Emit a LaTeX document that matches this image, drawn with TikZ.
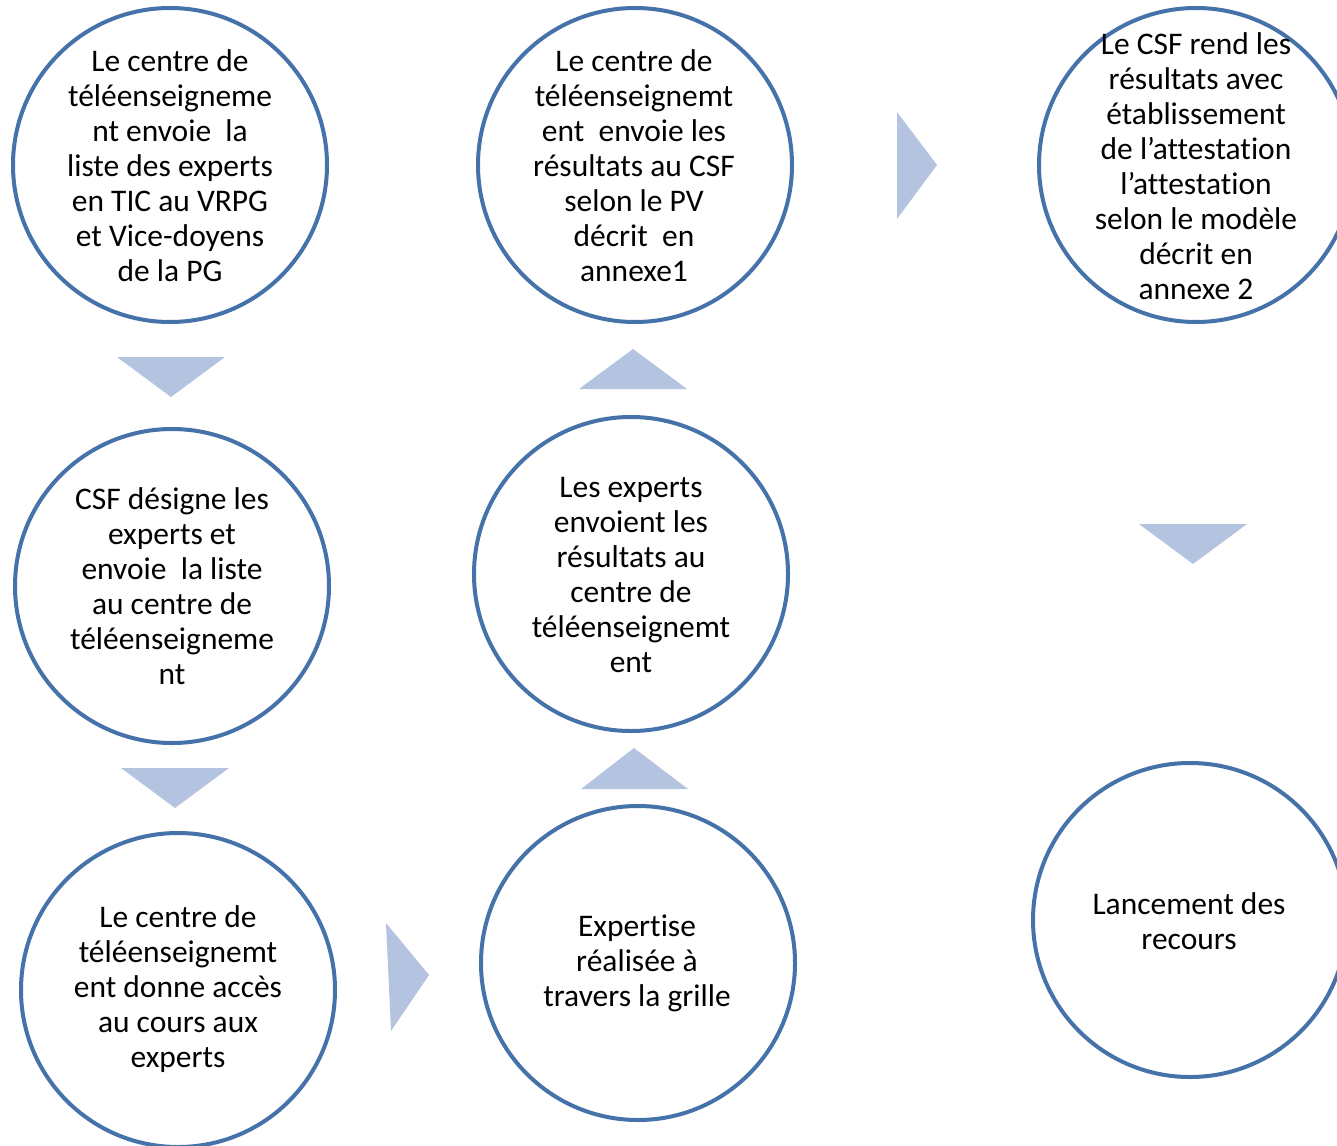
\documentclass[tikz,border=0pt]{standalone}
\usepackage{fontspec}
\setmainfont[Ligatures=NoCommon]{Carlito}
\definecolor{ringblue}{HTML}{4672AA}
\definecolor{tribl}{HTML}{B4C4E0}
\begin{document}
\begin{tikzpicture}[x=0.75pt,y=-0.75pt,
  stepcircle/.style={circle, draw=ringblue, line width=3pt, minimum size=235.5pt, inner sep=0pt},
  txt/.style={align=center, inner sep=0pt, font=\fontsize{23.6pt}{26.25pt}\selectfont},
  tri/.style={fill=tribl, draw=none}]
\useasboundingbox (0,0) rectangle (1337,1145);
\clip (0,0) rectangle (1337,1145);
\fill[white] (0,0) rectangle (1337,1145);
% circles
\node[stepcircle] (c1) at (170,165) {};
\node[stepcircle] (c2) at (635,165) {};
\node[stepcircle] (c3) at (1196,165) {};
\node[stepcircle] (c4) at (172,586) {};
\node[stepcircle] (c5) at (631,574) {};
\node[stepcircle] (c6) at (178,990) {};
\node[stepcircle] (c7) at (638,963) {};
\node[stepcircle] (c8) at (1190,920) {};
% texts
\node[txt] (t1) at (170,166) {Le centre de\\téléenseigneme\\nt envoie\ \ la\\liste des experts\\en TIC au VRPG\\et Vice-doyens\\de la PG};
\node[txt] (t2) at (634,166) {Le centre de\\téléenseignemt\\ent\ \ envoie les\\résultats au CSF\\selon le PV\\décrit\ \ en\\annexe1};
\node[txt] (t3) at (1196,166) {Le CSF rend les\\résultats avec\\établissement\\de l’attestation\\l’attestation\\selon le modèle\\décrit en\\annexe 2};
\node[txt] (t4) at (172,586) {CSF désigne les\\experts et\\envoie\ \ la liste\\au centre de\\téléenseigneme\\nt};
\node[txt] (t5) at (631,575) {Les experts\\envoient les\\résultats au\\centre de\\téléenseignemt\\ent};
\node[txt] (t6) at (178,989) {Le centre de\\téléenseignemt\\ent donne accès\\au cours aux\\experts};
\node[txt] (t7) at (637,963) {Expertise\\réalisée à\\travers la grille};
\node[txt] (t8) at (1189,921) {Lancement des\\recours};
% triangles
\fill[tri] (117,357) -- (225,357) -- (171,397) -- cycle;
\fill[tri] (121,768) -- (229,768) -- (175,808) -- cycle;
\fill[tri] (386,923) -- (391,1031) -- (429,975) -- cycle;
\fill[tri] (581,789) -- (688,789) -- (634,748) -- cycle;
\fill[tri] (579,389) -- (687,389) -- (633,349) -- cycle;
\fill[tri] (897,112) -- (897,219) -- (937,165) -- cycle;
\fill[tri] (1139,524) -- (1247,524) -- (1193,564) -- cycle;
\end{tikzpicture}
\end{document}
